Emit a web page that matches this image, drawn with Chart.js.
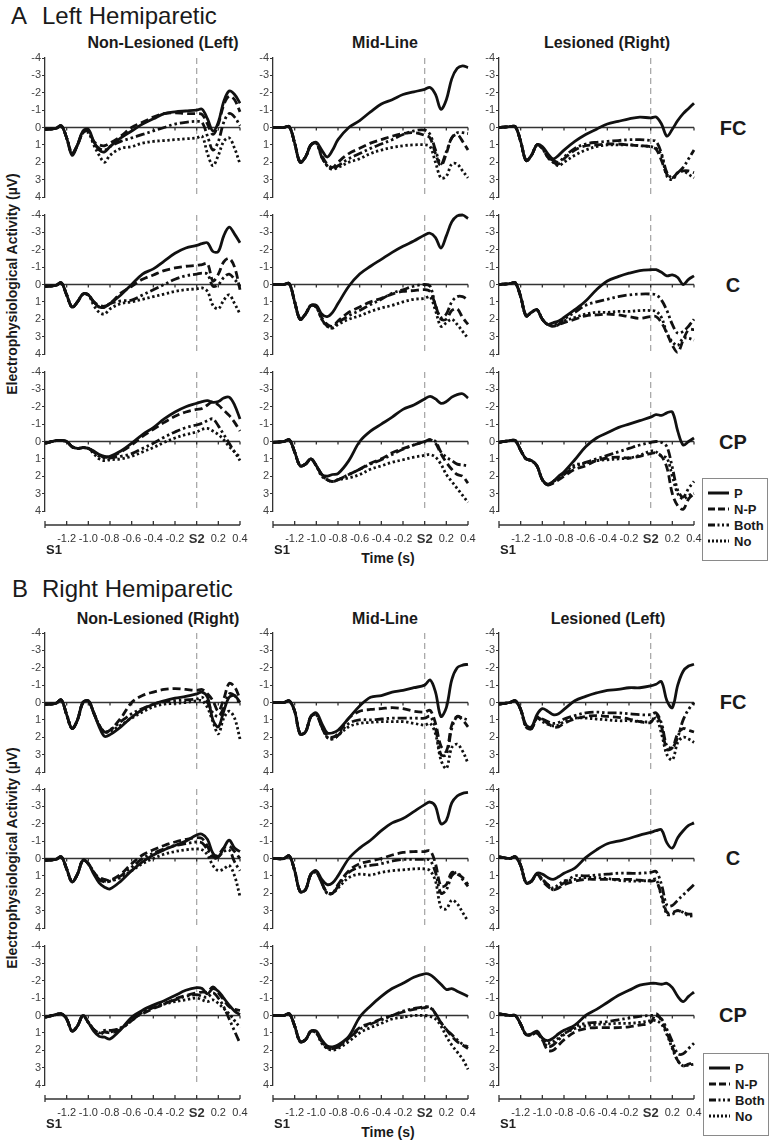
<!DOCTYPE html>
<html>
<head>
<meta charset="utf-8">
<script src="https://cdn.jsdelivr.net/npm/chart.js@4.4.1/dist/chart.umd.min.js"></script>
<style>
  body { margin: 0; background: #fff; }
  #fig { position: relative; width: 774px; height: 1144px; overflow: hidden;
         font-family: "Liberation Sans", Arial, sans-serif; color: #1a1a1a; }
  #fig canvas { position: absolute; }
  .lbl { position: absolute; white-space: nowrap; line-height: 1; transform: translate(-50%, -50%); }
  .left { transform: translate(0, -50%); }
  .sec { font-size: 24px; }
  .col { font-size: 16px; font-weight: bold; }
  .row { font-size: 20px; font-weight: bold; }
  .ytitle { font-size: 14px; font-weight: bold; transform: translate(-50%, -50%) rotate(-90deg); }
  .xtitle { font-size: 14px; font-weight: bold; }
  .legend { position: absolute; width: 64px; height: 75px; border: 1px solid #8a8a8a; background: #fff;
            padding-top: 6px; box-sizing: content-box; }
  .legend div { height: 16px; display: flex; align-items: center; font-size: 13px; font-weight: bold; }
  .legend svg { margin-left: 5px; margin-right: 5px; }
</style>
</head>
<body>
<div id="fig">
  <div class="lbl sec" style="left:19px;top:16px">A</div>
  <div class="lbl sec left" style="left:42px;top:16px">Left Hemiparetic</div>
  <div class="lbl col" style="left:163px;top:43px">Non-Lesioned (Left)</div>
  <div class="lbl col" style="left:385px;top:43px">Mid-Line</div>
  <div class="lbl col" style="left:607px;top:43px">Lesioned (Right)</div>
  <div class="lbl row" style="left:733px;top:128px">FC</div>
  <div class="lbl row" style="left:733px;top:285px">C</div>
  <div class="lbl row" style="left:733px;top:442px">CP</div>
  <div class="lbl ytitle" style="left:12px;top:284px">Electrophysiological Activity (µV)</div>
  <div class="lbl xtitle" style="left:388px;top:558px">Time (s)</div>

  <div class="lbl sec" style="left:20px;top:589px">B</div>
  <div class="lbl sec left" style="left:42px;top:589px">Right Hemiparetic</div>
  <div class="lbl col" style="left:158px;top:619px">Non-Lesioned (Right)</div>
  <div class="lbl col" style="left:385px;top:619px">Mid-Line</div>
  <div class="lbl col" style="left:608px;top:619px">Lesioned (Left)</div>
  <div class="lbl row" style="left:733px;top:702px">FC</div>
  <div class="lbl row" style="left:733px;top:858px">C</div>
  <div class="lbl row" style="left:733px;top:1015px">CP</div>
  <div class="lbl ytitle" style="left:12px;top:858px">Electrophysiological Activity (µV)</div>
  <div class="lbl xtitle" style="left:388px;top:1132px">Time (s)</div>
</div>
<script>
// time points (s), S2 at 0
const times = [-1.4,-1.3,-1.25,-1.2,-1.15,-1.1,-1.05,-1.0,-0.95,-0.9,-0.85,-0.8,-0.7,-0.6,-0.5,-0.4,-0.3,-0.2,-0.1,0,0.05,0.1,0.15,0.2,0.25,0.3,0.35,0.4];
const xTicks = [-1.4,-1.2,-1.0,-0.8,-0.6,-0.4,-0.2,0,0.2,0.4];
const yTicks = [-4,-3,-2,-1,0,1,2,3,4];
const seriesNames = ['P','N-P','Both','No'];

// A - Left hemiparetic
const aFc1P    = [0.1,0.05,-0.1,0.6,1.6,1.0,0.2,0.1,0.8,1.3,1.4,1.1,0.6,0.2,-0.2,-0.5,-0.8,-0.9,-0.95,-1.0,-1.05,-0.5,0.2,-0.3,-1.5,-2.1,-1.9,-1.4];
const aFc1Np   = [0.1,0.05,-0.1,0.6,1.5,1.0,0.3,0.2,0.8,1.0,1.05,0.9,0.5,0.0,-0.3,-0.6,-0.8,-0.85,-0.8,-0.8,-0.75,-0.2,0.4,-0.2,-1.3,-1.8,-1.6,-0.9];
const aFc1Both = [0.1,0.05,-0.1,0.6,1.5,1.0,0.3,0.2,0.9,1.2,1.3,1.1,0.8,0.6,0.4,0.2,0.0,-0.2,-0.3,-0.35,-0.3,0.5,1.3,0.8,-0.3,-0.8,-0.6,-0.1];
const aFc1No   = [0.1,0.05,-0.1,0.6,1.5,1.0,0.3,0.3,1.0,1.6,2.0,1.6,1.2,1.1,0.9,0.8,0.75,0.7,0.65,0.6,0.5,1.5,2.2,1.6,0.8,0.6,1.2,2.1];

const aFc2P    = [0,0,-0.05,0.9,2.0,1.7,1.0,0.85,1.3,1.7,1.3,0.7,0.0,-0.4,-0.9,-1.35,-1.6,-1.9,-2.05,-2.2,-2.3,-1.9,-1.05,-1.6,-2.8,-3.4,-3.55,-3.45];
const aFc2Np   = [0,0,-0.05,0.9,2.0,1.7,1.0,0.9,1.6,2.1,2.3,2.0,1.5,1.2,0.9,0.7,0.5,0.35,0.3,0.45,0.6,1.5,2.2,1.5,0.6,0.4,0.8,1.3];
const aFc2Both = [0,0,-0.05,0.9,2.0,1.7,1.0,0.9,1.7,2.2,2.4,2.2,1.8,1.5,1.2,0.95,0.7,0.4,0.2,0.15,0.4,1.3,2.1,1.4,0.6,0.3,0.3,0.35];
const aFc2No   = [0,0,-0.05,0.9,2.0,1.7,1.0,0.9,1.7,2.2,2.4,2.3,2.0,1.8,1.5,1.3,1.15,1.05,1.0,1.0,1.1,2.0,2.9,2.8,2.1,2.1,2.5,2.9];

const aFc3P    = [0,-0.05,-0.05,0.8,1.9,1.6,1.0,1.1,1.5,1.8,1.6,1.3,0.8,0.4,0.1,-0.2,-0.35,-0.5,-0.6,-0.55,-0.6,-0.2,0.5,0.1,-0.4,-0.8,-1.1,-1.4];
const aFc3Np   = [0,-0.05,-0.05,0.8,1.9,1.6,1.0,1.2,1.7,2.0,2.1,1.8,1.3,1.05,1.0,0.95,0.95,1.0,1.05,1.1,1.25,1.9,2.7,2.9,2.6,2.5,2.5,2.6];
const aFc3Both = [0,-0.05,-0.05,0.8,1.9,1.6,1.0,1.2,1.7,1.9,2.0,1.7,1.2,0.95,0.85,0.8,0.75,0.7,0.7,0.75,0.8,1.5,2.6,2.9,2.6,2.3,1.8,1.3];
const aFc3No   = [0,-0.05,-0.05,0.8,1.9,1.6,1.0,1.2,1.7,2.0,2.2,2.0,1.6,1.3,1.1,1.0,1.0,1.0,1.05,1.1,1.2,1.6,2.8,3.0,2.6,2.5,2.7,2.9];

const aC1P    = [0.1,0.05,-0.1,0.6,1.3,1.0,0.55,0.6,1.0,1.3,1.3,1.1,0.6,0.0,-0.6,-0.9,-1.35,-1.8,-2.1,-2.25,-2.35,-2.4,-1.9,-1.9,-2.8,-3.3,-2.9,-2.4];
const aC1Np   = [0.1,0.05,-0.1,0.6,1.3,1.0,0.55,0.6,1.0,1.2,1.25,1.1,0.5,0.1,-0.3,-0.55,-0.8,-0.95,-1.05,-1.1,-1.15,-1.2,-0.2,-0.6,-1.3,-1.5,-1.0,0.3];
const aC1Both = [0.1,0.05,-0.1,0.6,1.3,1.0,0.55,0.6,1.0,1.3,1.3,1.1,0.95,0.9,0.6,0.3,0.0,-0.3,-0.5,-0.6,-0.65,-0.6,0.1,0.0,-0.4,-0.6,-0.3,0.1];
const aC1No   = [0.1,0.05,-0.1,0.6,1.3,1.0,0.55,0.6,1.2,1.6,1.7,1.4,1.1,1.0,0.85,0.7,0.55,0.4,0.3,0.25,0.2,0.4,1.2,1.4,0.9,0.6,1.1,1.7];

const aC2P    = [0,0,-0.05,1.0,2.0,1.7,1.2,1.2,1.7,1.85,1.6,1.1,0.1,-0.6,-1.05,-1.45,-1.85,-2.2,-2.5,-2.85,-2.95,-2.7,-2.1,-2.8,-3.6,-3.95,-4.0,-3.8];
const aC2Np   = [0,0,-0.05,1.0,2.0,1.7,1.2,1.3,1.9,2.3,2.4,2.1,1.6,1.3,1.0,0.8,0.55,0.4,0.35,0.3,0.4,1.2,2.0,2.0,1.5,1.4,1.9,2.3];
const aC2Both = [0,0,-0.05,1.0,2.0,1.7,1.2,1.3,2.0,2.4,2.5,2.2,1.8,1.5,1.15,0.85,0.5,0.3,0.1,0.0,0.1,1.2,1.9,1.7,1.0,0.7,0.7,0.9];
const aC2No   = [0,0,-0.05,1.0,2.0,1.7,1.2,1.3,2.0,2.4,2.5,2.3,2.0,1.8,1.55,1.35,1.2,1.0,0.85,0.8,0.7,1.5,2.4,2.2,2.0,2.3,2.7,3.1];

const aC3P    = [0,-0.05,-0.1,0.7,1.8,1.6,1.45,2.0,2.3,2.2,2.1,1.9,1.45,0.95,0.3,-0.2,-0.45,-0.65,-0.8,-0.85,-0.85,-0.7,-0.5,-0.55,-0.4,0.0,-0.3,-0.5];
const aC3Np   = [0,-0.05,-0.1,0.7,1.8,1.6,1.45,2.0,2.3,2.4,2.3,2.2,2.0,1.8,1.75,1.7,1.75,1.85,1.95,1.85,1.85,2.2,2.8,3.5,3.9,3.2,2.6,2.6];
const aC3Both = [0,-0.05,-0.1,0.7,1.8,1.6,1.45,2.0,2.3,2.4,2.3,2.0,1.6,1.2,1.0,0.85,0.7,0.6,0.55,0.55,0.6,0.9,1.5,2.3,2.8,2.7,2.4,2.0];
const aC3No   = [0,-0.05,-0.1,0.7,1.8,1.6,1.45,2.0,2.3,2.3,2.2,2.1,1.9,1.7,1.6,1.6,1.55,1.55,1.5,1.5,1.55,1.9,2.8,3.3,3.5,3.1,3.1,3.2];

const aCp1P    = [0.1,-0.05,-0.05,0.0,0.3,0.4,0.35,0.4,0.55,0.75,0.85,0.85,0.55,0.1,-0.4,-0.8,-1.3,-1.7,-2.0,-2.2,-2.3,-2.35,-2.25,-2.3,-2.5,-2.55,-2.1,-1.3];
const aCp1Np   = [0.1,-0.05,-0.05,0.0,0.3,0.4,0.35,0.4,0.6,0.8,0.9,0.9,0.6,0.2,-0.3,-0.7,-1.1,-1.45,-1.7,-1.85,-1.9,-2.1,-2.3,-2.1,-1.8,-1.5,-1.1,-0.6];
const aCp1Both = [0.1,-0.05,-0.05,0.0,0.3,0.4,0.35,0.4,0.6,0.85,0.95,0.95,0.85,0.7,0.4,0.1,-0.25,-0.55,-0.8,-0.95,-1.05,-1.2,-1.3,-0.9,-0.4,0.1,0.6,0.9];
const aCp1No   = [0.1,-0.05,-0.05,0.0,0.3,0.4,0.35,0.4,0.7,1.0,1.1,1.05,1.0,0.85,0.6,0.35,0.05,-0.2,-0.4,-0.55,-0.7,-0.75,-0.6,-0.4,-0.1,0.3,0.6,1.1];

const aCp2P    = [0.05,0,-0.1,0.6,1.4,1.3,1.0,1.4,1.9,2.0,1.9,1.85,1.1,0.0,-0.6,-1.0,-1.4,-1.85,-2.1,-2.45,-2.6,-2.45,-2.2,-2.3,-2.55,-2.7,-2.75,-2.5];
const aCp2Np   = [0.05,0,-0.1,0.6,1.4,1.3,1.0,1.4,1.9,2.2,2.3,2.2,1.9,1.6,1.25,1.0,0.65,0.4,0.2,0.0,-0.1,0.1,0.7,1.2,1.6,1.9,2.0,2.4];
const aCp2Both = [0.05,0,-0.1,0.6,1.4,1.3,1.0,1.4,1.9,2.2,2.3,2.2,1.9,1.6,1.3,1.05,0.75,0.45,0.2,0.0,-0.1,0.0,0.6,0.9,1.1,1.3,1.35,1.4];
const aCp2No   = [0.05,0,-0.1,0.6,1.4,1.3,1.0,1.4,2.0,2.2,2.3,2.2,2.1,1.9,1.6,1.4,1.2,1.05,0.9,0.8,0.75,0.9,1.3,1.9,2.3,2.7,3.1,3.5];

const aCp3P    = [0.05,-0.05,-0.05,0.5,1.0,1.1,1.4,2.2,2.45,2.3,2.0,1.75,1.05,0.3,-0.2,-0.5,-0.8,-1.0,-1.2,-1.4,-1.55,-1.5,-1.65,-1.7,-0.6,0.2,0.0,-0.2];
const aCp3Np   = [0.05,-0.05,-0.05,0.5,1.0,1.1,1.4,2.2,2.5,2.4,2.2,2.0,1.6,1.4,1.1,0.95,0.9,0.95,0.85,0.7,0.65,0.85,1.5,3.0,3.7,3.9,3.3,3.0];
const aCp3Both = [0.05,-0.05,-0.05,0.5,1.0,1.1,1.4,2.2,2.5,2.3,2.1,1.9,1.45,1.2,1.0,0.8,0.6,0.4,0.2,0.05,0.0,0.05,0.3,1.5,2.8,3.2,2.7,2.3];
const aCp3No   = [0.05,-0.05,-0.05,0.5,1.0,1.1,1.4,2.2,2.5,2.3,2.1,1.8,1.35,1.25,1.1,1.05,1.0,0.95,0.8,0.55,0.6,0.85,0.95,2.0,3.0,3.3,3.1,3.0];

// B - Right hemiparetic
const bFc1P    = [0.1,0.05,-0.15,0.7,1.5,1.0,0.0,-0.1,0.6,1.4,1.95,1.85,1.4,0.85,0.4,0.1,-0.1,-0.25,-0.35,-0.5,-0.6,-0.3,1.0,1.4,0.5,-0.3,-0.4,0.0];
const bFc1Np   = [0.1,0.05,-0.15,0.7,1.5,1.0,0.0,-0.1,0.6,1.3,1.7,1.6,0.9,0.0,-0.4,-0.6,-0.75,-0.8,-0.75,-0.7,-0.75,-0.5,-0.1,0.5,-0.2,-1.1,-0.9,-0.2];
const bFc1Both = [0.1,0.05,-0.15,0.7,1.5,1.0,0.0,-0.1,0.6,1.3,1.7,1.6,1.1,0.65,0.35,0.1,-0.05,-0.1,-0.15,-0.2,-0.3,0.0,0.6,0.8,0.3,-0.5,-0.4,0.1];
const bFc1No   = [0.1,0.05,-0.15,0.7,1.5,1.0,0.0,-0.1,0.6,1.3,1.7,1.65,1.3,0.9,0.55,0.25,0.1,0.05,0.0,-0.1,-0.1,0.3,1.1,1.8,0.9,0.5,0.9,2.1];

const bFc2P    = [0,0,-0.1,0.5,1.8,1.7,0.8,0.6,1.2,1.75,1.75,1.6,0.9,0.2,-0.3,-0.4,-0.6,-0.7,-0.85,-1.0,-1.3,-0.6,0.8,0.3,-1.3,-2.0,-2.15,-2.2];
const bFc2Np   = [0,0,-0.1,0.5,1.8,1.7,0.8,0.7,1.4,1.9,2.0,1.8,0.9,0.5,0.4,0.35,0.3,0.35,0.5,0.55,0.45,1.2,2.5,2.8,1.3,0.8,1.0,1.4];
const bFc2Both = [0,0,-0.1,0.5,1.8,1.7,0.8,0.7,1.4,2.0,2.1,1.9,1.2,1.0,1.0,0.95,0.9,0.9,0.9,0.9,0.8,1.5,3.0,3.0,1.5,0.8,0.9,1.0];
const bFc2No   = [0,0,-0.1,0.5,1.8,1.7,0.8,0.7,1.4,2.0,2.1,1.9,1.4,1.2,1.15,1.1,1.1,1.1,1.2,1.3,1.2,1.8,3.3,3.8,2.6,2.4,2.8,3.5];

const bFc3P    = [0.1,0.0,-0.1,0.4,1.3,1.4,0.7,0.35,0.5,0.7,0.65,0.4,-0.1,-0.35,-0.55,-0.7,-0.75,-0.85,-0.85,-0.95,-1.05,-1.2,-0.1,0.3,-1.0,-1.8,-2.1,-2.2];
const bFc3Np   = [0.1,0.0,-0.1,0.4,1.4,1.5,0.9,1.0,1.2,1.4,1.4,1.2,0.95,0.8,0.75,0.8,0.85,0.95,1.1,1.15,0.7,1.4,2.7,2.6,1.8,1.5,1.6,1.7];
const bFc3Both = [0.1,0.0,-0.1,0.4,1.4,1.5,0.85,0.95,1.1,1.2,1.15,0.95,0.75,0.6,0.55,0.6,0.6,0.65,0.7,0.7,0.6,1.2,2.5,2.6,2.0,1.0,0.4,0.0];
const bFc3No   = [0.1,0.0,-0.1,0.4,1.4,1.5,0.9,1.1,1.25,1.35,1.3,1.1,0.9,0.9,0.95,1.0,1.05,1.05,1.1,1.1,0.9,1.8,3.0,3.3,2.3,2.0,2.1,2.3];

const bC1P    = [0.1,0.05,-0.1,0.6,1.35,0.9,0.1,0.3,0.9,1.4,1.65,1.75,1.3,0.7,0.2,-0.2,-0.5,-0.75,-1.0,-1.35,-1.4,-1.1,-0.3,-0.1,-0.6,-1.05,-0.6,-0.4];
const bC1Np   = [0.1,0.05,-0.1,0.6,1.35,0.9,0.1,0.3,0.8,1.1,1.2,1.25,0.9,0.3,-0.2,-0.5,-0.75,-0.95,-1.1,-1.2,-1.15,-0.7,-0.1,-0.2,-0.6,-0.7,-0.4,0.0];
const bC1Both = [0.1,0.05,-0.1,0.6,1.35,0.9,0.1,0.3,0.8,1.2,1.35,1.3,1.0,0.5,0.0,-0.3,-0.55,-0.75,-0.85,-0.95,-0.9,-0.5,0.0,-0.1,-0.4,-0.5,0.2,0.7];
const bC1No   = [0.1,0.05,-0.1,0.6,1.35,0.9,0.1,0.3,0.8,1.2,1.3,1.3,1.1,0.7,0.3,0.0,-0.25,-0.4,-0.5,-0.55,-0.5,-0.2,0.4,0.7,0.6,0.4,1.0,2.2];

const bC2P    = [0,0,-0.15,0.7,1.9,1.8,0.9,0.7,1.2,1.5,1.4,1.0,0.0,-0.6,-1.05,-1.6,-2.05,-2.3,-2.7,-3.1,-3.25,-3.0,-2.0,-2.2,-3.2,-3.6,-3.75,-3.8];
const bC2Np   = [0,0,-0.15,0.7,1.9,1.8,0.9,0.8,1.4,1.95,2.0,1.5,0.7,0.3,0.15,0.0,-0.2,-0.35,-0.4,-0.4,-0.45,0.3,1.6,1.5,0.8,0.9,1.1,1.5];
const bC2Both = [0,0,-0.15,0.7,1.9,1.8,0.9,0.8,1.4,2.0,2.0,1.6,0.8,0.5,0.4,0.3,0.15,0.05,0.05,0.05,0.1,0.8,2.0,1.8,1.0,0.8,1.2,1.6];
const bC2No   = [0,0,-0.15,0.7,1.9,1.8,0.9,0.8,1.4,2.0,2.0,1.7,1.1,0.9,0.95,0.8,0.7,0.65,0.6,0.6,0.7,1.3,2.8,2.9,2.4,2.6,3.1,3.6];

const bC3P    = [-0.1,0.0,-0.1,0.4,1.4,1.3,0.85,0.9,1.1,1.2,1.05,0.85,0.55,-0.05,-0.5,-0.85,-1.0,-1.15,-1.35,-1.5,-1.6,-1.65,-0.9,-0.6,-1.2,-1.6,-1.9,-2.05];
const bC3Np   = [-0.1,0.0,-0.1,0.4,1.4,1.3,0.9,1.3,1.6,1.8,1.7,1.5,1.3,1.2,1.2,1.2,1.2,1.2,1.25,1.3,1.3,2.1,3.1,3.1,3.0,3.1,3.2,3.2];
const bC3Both = [-0.1,0.0,-0.1,0.4,1.4,1.3,0.9,1.2,1.5,1.8,1.6,1.4,1.0,1.0,0.95,0.9,0.85,0.85,0.85,0.8,0.75,1.5,2.7,2.7,2.4,2.1,1.8,1.5];
const bC3No   = [-0.1,0.0,-0.1,0.4,1.4,1.3,0.9,1.2,1.5,1.7,1.5,1.3,1.2,1.1,1.1,1.15,1.25,1.3,1.3,1.25,1.2,2.2,3.2,3.2,3.0,3.1,3.3,3.3];

const bCp1P    = [0.1,-0.05,-0.1,0.2,0.9,0.6,0.0,0.4,0.9,1.2,1.25,1.35,0.8,0.1,-0.3,-0.6,-0.85,-1.15,-1.45,-1.6,-1.55,-1.25,-1.55,-1.4,-1.0,-0.6,-0.25,-0.05];
const bCp1Np   = [0.1,-0.05,-0.1,0.2,0.9,0.6,0.0,0.4,0.8,1.0,0.95,1.0,0.8,0.2,-0.1,-0.4,-0.65,-0.95,-1.15,-1.3,-1.35,-1.35,-1.65,-1.3,-0.9,-0.5,-0.35,-0.3];
const bCp1Both = [0.1,-0.05,-0.1,0.2,0.9,0.6,0.0,0.4,0.8,1.0,0.85,0.85,0.75,0.3,-0.2,-0.45,-0.7,-0.9,-1.1,-1.2,-1.1,-1.05,-1.3,-1.0,-0.5,0.2,0.9,1.6];
const bCp1No   = [0.1,-0.05,-0.1,0.2,0.9,0.6,0.0,0.4,0.8,1.1,0.95,0.95,0.7,0.3,-0.2,-0.45,-0.65,-0.8,-0.9,-1.0,-0.9,-0.8,-0.9,-0.7,-0.4,-0.1,0.3,0.7];

const bCp2P    = [0,0,-0.1,0.6,1.5,1.4,0.9,0.9,1.4,1.75,1.8,1.7,1.2,0.1,-0.55,-1.1,-1.55,-1.85,-2.2,-2.4,-2.35,-2.1,-1.8,-1.5,-1.55,-1.4,-1.25,-1.1];
const bCp2Np   = [0,0,-0.1,0.6,1.5,1.4,0.9,1.0,1.5,1.85,1.9,1.8,1.3,0.7,0.45,0.2,0.0,-0.2,-0.35,-0.45,-0.5,-0.1,0.4,0.8,1.2,1.5,1.7,1.9];
const bCp2Both = [0,0,-0.1,0.6,1.5,1.4,0.9,1.0,1.5,1.85,1.9,1.8,1.3,0.8,0.5,0.25,0.0,-0.25,-0.4,-0.5,-0.45,-0.1,0.4,0.8,1.1,1.4,1.65,1.8];
const bCp2No   = [0,0,-0.1,0.6,1.5,1.4,0.9,1.0,1.6,1.9,2.0,1.9,1.5,1.0,0.7,0.45,0.2,0.1,0.0,0.0,0.05,0.2,0.6,1.2,1.7,2.1,2.5,3.1];

const bCp3P    = [-0.1,0.0,0.0,0.5,1.1,1.05,0.9,1.3,1.45,1.3,1.05,0.85,0.55,0.0,-0.35,-0.75,-1.15,-1.45,-1.75,-1.85,-1.85,-1.8,-1.85,-1.6,-1.1,-0.8,-1.1,-1.35];
const bCp3Np   = [-0.1,0.0,0.0,0.5,1.1,1.1,1.0,1.4,2.0,2.0,1.7,1.4,0.95,0.75,0.7,0.7,0.7,0.65,0.55,0.4,-0.1,0.3,1.0,1.8,2.6,2.9,2.8,2.7];
const bCp3Both = [-0.1,0.0,0.0,0.5,1.1,1.1,1.0,1.4,1.8,1.7,1.4,1.1,0.65,0.45,0.4,0.35,0.25,0.15,0.05,0.0,0.0,0.2,0.8,1.5,2.2,2.2,1.9,1.6];
const bCp3No   = [-0.1,0.0,0.0,0.5,1.1,1.1,1.0,1.3,1.6,1.5,1.3,1.05,0.75,0.6,0.5,0.5,0.45,0.45,0.4,0.3,0.3,0.5,1.1,1.9,2.6,2.9,2.85,2.8];

// panel grid: [row][col] -> 4 series (P, N-P, Both, No)
const sectionA = [
  [[aFc1P,aFc1Np,aFc1Both,aFc1No], [aFc2P,aFc2Np,aFc2Both,aFc2No], [aFc3P,aFc3Np,aFc3Both,aFc3No]],
  [[aC1P,aC1Np,aC1Both,aC1No],     [aC2P,aC2Np,aC2Both,aC2No],     [aC3P,aC3Np,aC3Both,aC3No]],
  [[aCp1P,aCp1Np,aCp1Both,aCp1No], [aCp2P,aCp2Np,aCp2Both,aCp2No], [aCp3P,aCp3Np,aCp3Both,aCp3No]]
];
const sectionB = [
  [[bFc1P,bFc1Np,bFc1Both,bFc1No], [bFc2P,bFc2Np,bFc2Both,bFc2No], [bFc3P,bFc3Np,bFc3Both,bFc3No]],
  [[bC1P,bC1Np,bC1Both,bC1No],     [bC2P,bC2Np,bC2Both,bC2No],     [bC3P,bC3Np,bC3Both,bC3No]],
  [[bCp1P,bCp1Np,bCp1Both,bCp1No], [bCp2P,bCp2Np,bCp2Both,bCp2No], [bCp3P,bCp3Np,bCp3Both,bCp3No]]
];

const lineDash = [[], [8,4], [9,3,2.5,3,2.5,3], [2.4,2.6]];
const FONT = '"Liberation Sans", Arial, sans-serif';
Chart.defaults.font.family = FONT;

const colX = [45, 273, 499];          // pixel of the y axis in each column
const rowTop = { A: [58, 215, 372], B: [633, 789, 946] };
const PW = 195, PH = 139, PADL = 32, PADT = 8, PADR = 10, XAXIS_H = 50;

const fig = document.getElementById('fig');

// zero line, S2 marker, detached time axis
const decor = {
  id: 'decor',
  beforeDatasetsDraw(chart, args, opts) {
    const { ctx, scales: { x, y } } = chart;
    const x0 = x.getPixelForValue(-1.4), x1 = x.getPixelForValue(0.4);
    ctx.save();
    const xs = x.getPixelForValue(0);
    ctx.strokeStyle = '#a9a9a9';
    ctx.lineWidth = 1.3;
    ctx.setLineDash([6, 4]);
    ctx.beginPath();
    ctx.moveTo(xs, y.getPixelForValue(-4));
    ctx.lineTo(xs, y.getPixelForValue(4));
    ctx.stroke();
    ctx.setLineDash([]);

    const yz = y.getPixelForValue(0);
    ctx.strokeStyle = '#333';
    ctx.lineWidth = 1.3;
    ctx.beginPath();
    ctx.moveTo(x0, yz); ctx.lineTo(x1, yz);
    xTicks.forEach(v => {
      if (v > -1.4) { const px = x.getPixelForValue(v); ctx.moveTo(px, yz); ctx.lineTo(px, yz + 3); }
    });
    ctx.stroke();

    if (opts.bottom) {
      const ya = y.getPixelForValue(4) + 14;
      ctx.beginPath();
      ctx.moveTo(x0, ya); ctx.lineTo(x1, ya);
      xTicks.forEach(v => { const px = x.getPixelForValue(v); ctx.moveTo(px, ya - 4); ctx.lineTo(px, ya + (v === -1.4 ? 3 : 0)); });
      ctx.stroke();
      ctx.fillStyle = '#222';
      ctx.font = 'bold 13px ' + FONT;
      ctx.textAlign = 'left';
      ctx.textBaseline = 'middle';
      ctx.fillText('S1', x0 + 1, ya + 25);
    }
    ctx.restore();
  }
};

function makePanel(left, top, isBottom, series) {
  const W = PADL + PW + PADR;
  const H = isBottom ? PADT + PH + XAXIS_H + 2 : PADT + PH + 8;
  const cv = document.createElement('canvas');
  cv.width = W; cv.height = H;
  cv.style.left = (left - PADL) + 'px';
  cv.style.top = (top - PADT) + 'px';
  cv.style.width = W + 'px';
  cv.style.height = H + 'px';
  fig.appendChild(cv);

  const xScale = {
    type: 'linear', min: -1.4, max: 0.4, display: isBottom,
    afterBuildTicks: s => { s.ticks = xTicks.map(v => ({ value: v })); },
    // invisible tick marks push the labels down, below the detached axis line
    grid: { display: true, drawOnChartArea: false, drawTicks: true, tickLength: 20, color: 'rgba(0,0,0,0)' },
    border: { display: false },
    ticks: {
      autoSkip: false, maxRotation: 0, padding: 1, color: '#333',
      font: c => (c.tick && c.tick.value === 0) ? { size: 13, weight: 'bold' } : { size: 11 },
      callback: v => v === 0 ? 'S2' : (v === -1.4 ? '' : v.toFixed(1))
    }
  };
  if (isBottom) xScale.afterFit = s => { s.height = XAXIS_H; };

  new Chart(cv, {
    type: 'line',
    data: {
      datasets: series.map((vals, k) => ({
        label: seriesNames[k],
        data: vals.map((v, i) => ({ x: times[i], y: v })),
        borderColor: '#111',
        borderWidth: 2.8,
        borderDash: lineDash[k],
        borderJoinStyle: 'round',
        pointRadius: 0,
        tension: 0.35,
        fill: false,
        clip: false
      }))
    },
    options: {
      responsive: false,
      animation: false,
      devicePixelRatio: 1,
      layout: { padding: { left: 0, top: PADT, right: PADR, bottom: isBottom ? 2 : 8 } },
      plugins: { legend: { display: false }, tooltip: { enabled: false }, decor: { bottom: isBottom } },
      scales: {
        x: xScale,
        y: {
          type: 'linear', min: -4, max: 4, reverse: true,
          afterBuildTicks: s => { s.ticks = yTicks.map(v => ({ value: v })); },
          afterFit: s => { s.width = PADL; },
          grid: { drawOnChartArea: false, drawTicks: true, tickLength: 3, color: '#333' },
          border: { display: true, color: '#333', width: 1.3 },
          ticks: { padding: 1, color: '#444', font: { size: 11 }, callback: v => String(v) }
        }
      }
    },
    plugins: [decor]
  });
}

[['A', sectionA], ['B', sectionB]].forEach(([key, sec]) => {
  sec.forEach((row, r) => {
    row.forEach((series, c) => makePanel(colX[c], rowTop[key][r], r === 2, series));
  });
});

// legends
function addLegend(left, top) {
  const box = document.createElement('div');
  box.className = 'legend';
  box.style.left = left + 'px';
  box.style.top = top + 'px';
  const dashes = ['', '7 3', '7 2.5 2 2.5 2 2.5', '2 2'];
  seriesNames.forEach((name, k) => {
    const item = document.createElement('div');
    item.innerHTML = '<svg width="21" height="8"><line x1="0" y1="4" x2="21" y2="4" stroke="#111" stroke-width="3"' +
      (dashes[k] ? ' stroke-dasharray="' + dashes[k] + '"' : '') + '/></svg><span>' + name + '</span>';
    box.appendChild(item);
  });
  fig.appendChild(box);
}
addLegend(702, 478);
addLegend(703, 1053);
</script>
</body>
</html>
